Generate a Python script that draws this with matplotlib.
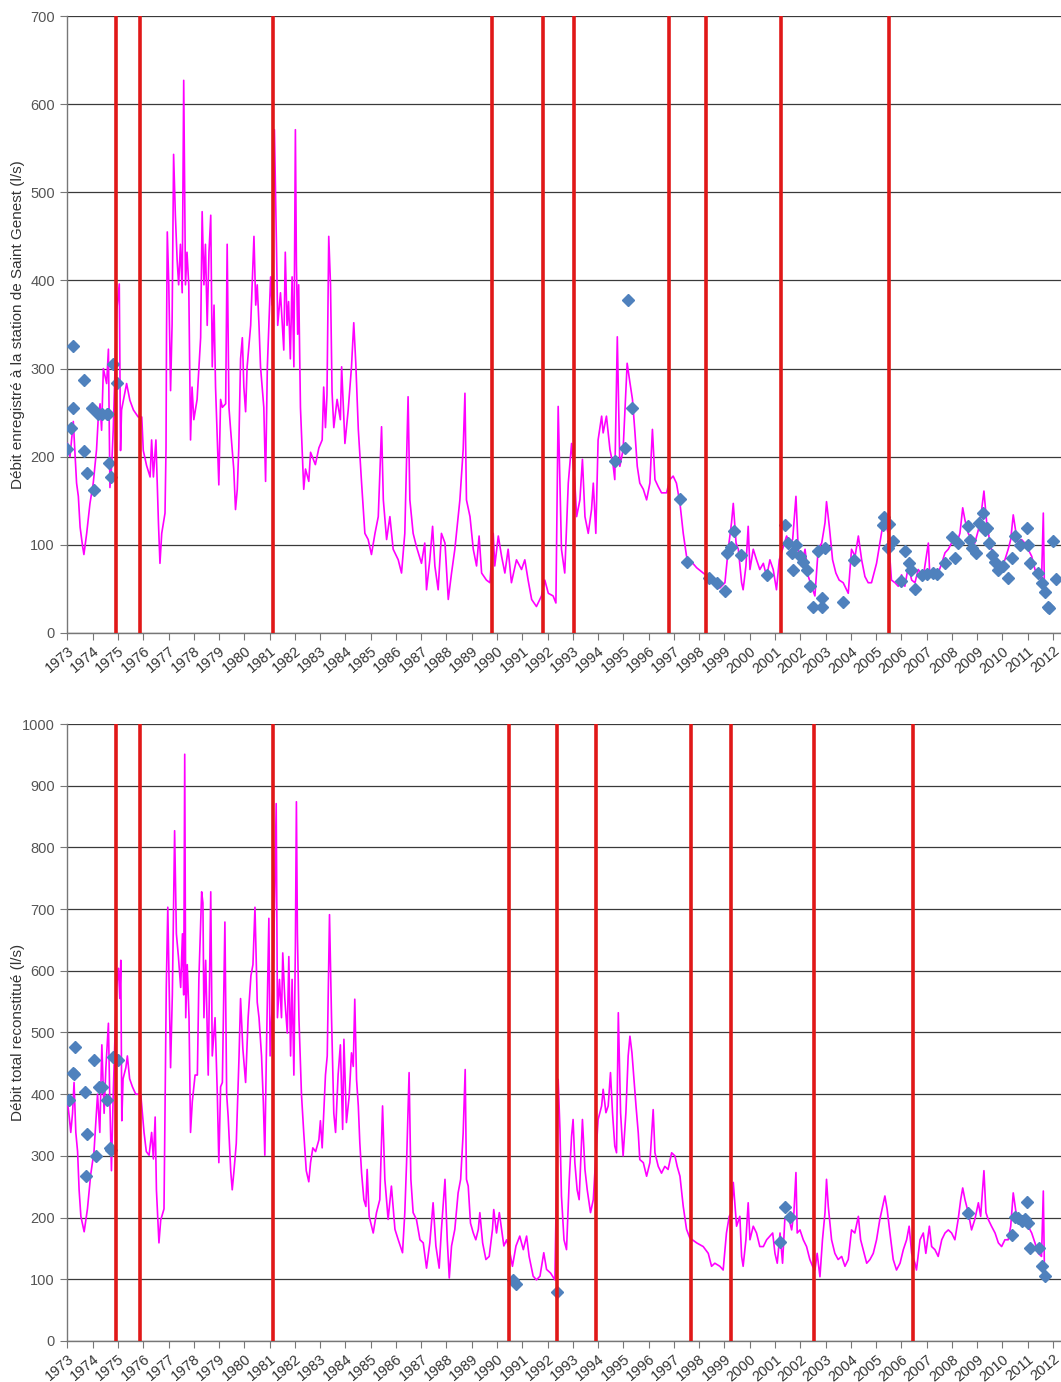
import matplotlib
matplotlib.use("Agg")
import matplotlib.pyplot as plt
import numpy as np

plt.rcParams['font.family'] = ['Liberation Sans', 'DejaVu Sans']

top_t = [1973.00, 1973.10, 1973.23, 1973.36, 1973.43, 1973.50, 1973.59, 1973.65, 1973.76, 1973.89,
         1974.02, 1974.15, 1974.22, 1974.29, 1974.35, 1974.42, 1974.55, 1974.62, 1974.68, 1974.75,
         1974.81, 1974.95, 1975.05, 1975.10, 1975.14, 1975.34, 1975.47, 1975.61, 1975.80, 1975.94,
         1976.00, 1976.13, 1976.27, 1976.33, 1976.40, 1976.50, 1976.60, 1976.66, 1976.73, 1976.86,
         1976.90, 1976.92, 1976.95, 1977.01, 1977.08, 1977.14, 1977.20, 1977.27, 1977.34, 1977.40,
         1977.47, 1977.54, 1977.60, 1977.67, 1977.73, 1977.80, 1977.87, 1977.93, 1978.00, 1978.13,
         1978.27, 1978.33, 1978.40, 1978.46, 1978.53, 1978.60, 1978.67, 1978.73, 1978.80, 1978.86,
         1978.99, 1979.06, 1979.13, 1979.26, 1979.32, 1979.39, 1979.45, 1979.58, 1979.65, 1979.72,
         1979.78, 1979.85, 1979.92, 1979.98, 1980.05, 1980.11, 1980.25, 1980.31, 1980.38, 1980.45,
         1980.51, 1980.58, 1980.64, 1980.77, 1980.84, 1980.91, 1980.97, 1981.04, 1981.10, 1981.19,
         1981.27, 1981.32, 1981.43, 1981.56, 1981.62, 1981.69, 1981.75, 1981.82, 1981.89, 1981.96,
         1982.02, 1982.06, 1982.11, 1982.15, 1982.22, 1982.35, 1982.42, 1982.55, 1982.62, 1982.81,
         1982.95, 1983.08, 1983.14, 1983.21, 1983.27, 1983.34, 1983.41, 1983.47, 1983.54, 1983.67,
         1983.80, 1983.85, 1983.98, 1984.11, 1984.24, 1984.33, 1984.41, 1984.51, 1984.64, 1984.77,
         1984.90, 1985.03, 1985.17, 1985.30, 1985.43, 1985.50, 1985.63, 1985.76, 1985.89, 1986.09,
         1986.22, 1986.35, 1986.48, 1986.55, 1986.68, 1986.81, 1987.01, 1987.14, 1987.21, 1987.34,
         1987.45, 1987.54, 1987.67, 1987.80, 1987.94, 1988.07, 1988.20, 1988.33, 1988.53, 1988.66,
         1988.73, 1988.79, 1988.93, 1989.06, 1989.19, 1989.29, 1989.39, 1989.58, 1989.72, 1989.85,
         1989.91, 1990.05, 1990.18, 1990.31, 1990.44, 1990.57, 1990.77, 1990.97, 1991.10, 1991.23,
         1991.37, 1991.56, 1991.76, 1991.89, 1992.03, 1992.22, 1992.33, 1992.42, 1992.55, 1992.68,
         1992.82, 1992.95, 1993.08, 1993.15, 1993.28, 1993.38, 1993.48, 1993.61, 1993.74, 1993.81,
         1993.91, 1994.00, 1994.14, 1994.20, 1994.33, 1994.47, 1994.60, 1994.66, 1994.76, 1994.86,
         1994.99, 1995.15, 1995.26, 1995.36, 1995.46, 1995.55, 1995.65, 1995.79, 1995.92, 1996.05,
         1996.15, 1996.25, 1996.38, 1996.51, 1996.71, 1996.84, 1996.97, 1997.10, 1997.24, 1997.37,
         1997.50, 1997.63, 1997.90, 1998.16, 1998.43, 1998.62, 1998.82, 1999.02, 1999.15, 1999.28,
         1999.35, 1999.46, 1999.55, 1999.68, 1999.74, 1999.85, 1999.94, 2000.01, 2000.14, 2000.27,
         2000.40, 2000.54, 2000.67, 2000.80, 2000.93, 2001.06, 2001.17, 2001.33, 2001.46, 2001.59,
         2001.70, 2001.83, 2001.92, 2002.05, 2002.19, 2002.32, 2002.45, 2002.58, 2002.71, 2002.85,
         2002.98, 2003.04, 2003.15, 2003.28, 2003.41, 2003.54, 2003.70, 2003.90, 2004.03, 2004.17,
         2004.30, 2004.43, 2004.56, 2004.69, 2004.82, 2005.02, 2005.15, 2005.26, 2005.35, 2005.48,
         2005.61, 2005.75, 2005.88, 2006.01, 2006.14, 2006.28, 2006.41, 2006.54, 2006.67, 2006.87,
         2007.07, 2007.13, 2007.26, 2007.46, 2007.60, 2007.73, 2007.86, 2008.06, 2008.19, 2008.32,
         2008.43, 2008.52, 2008.65, 2008.78, 2008.91, 2009.05, 2009.18, 2009.27, 2009.38, 2009.51,
         2009.64, 2009.77, 2009.90, 2010.10, 2010.23, 2010.33, 2010.43, 2010.54, 2010.63, 2010.76,
         2010.89, 2011.02, 2011.16, 2011.29, 2011.42, 2011.55, 2011.62, 2011.66, 2011.70]
top_q = [215, 200, 240, 170, 155, 120, 100, 89, 113, 147,
         170, 208, 245, 260, 230, 300, 283, 322, 165, 190,
         230, 366, 396, 207, 253, 283, 264, 253, 245, 245,
         207, 190, 177, 219, 177, 219, 125, 79, 113, 136,
         210, 340, 455, 395, 275, 350, 543, 474, 423, 395,
         441, 386, 627, 395, 432, 395, 219, 279, 242, 265,
         335, 478, 395, 441, 349, 432, 474, 302, 372, 279,
         168, 265, 256, 260, 441, 256, 233, 186, 140, 163,
         210, 311, 335, 279, 251, 302, 349, 395, 450, 372,
         395, 349, 302, 256, 172, 302, 349, 404, 372, 571,
         441, 349, 386, 321, 432, 349, 376, 311, 404, 302,
         571, 418, 339, 395, 256, 163, 186, 172, 205, 191,
         210, 219, 279, 233, 270, 450, 395, 274, 233, 265,
         242, 302, 215, 253, 302, 352, 306, 231, 170, 113,
         106, 89, 113, 132, 234, 151, 106, 132, 95, 83,
         68, 113, 268, 151, 113, 98, 79, 102, 49, 83,
         121, 76, 49, 113, 102, 38, 68, 95, 151, 208,
         272, 151, 132, 95, 76, 110, 68, 60, 57, 113,
         76, 110, 87, 68, 95, 57, 83, 72, 83, 60,
         38, 30, 42, 60, 45, 42, 34, 257, 95, 68,
         170, 215, 170, 132, 151, 197, 132, 113, 140, 170,
         113, 219, 246, 227, 246, 208, 189, 174, 336, 189,
         208, 306, 284, 265, 227, 189, 170, 163, 151, 170,
         231, 174, 166, 159, 159, 174, 178, 170, 147, 113,
         87, 83, 74, 68, 62, 53, 51, 57, 95, 125,
         147, 102, 95, 57, 49, 76, 121, 72, 95, 83,
         72, 79, 64, 83, 72, 49, 83, 98, 110, 102,
         106, 155, 95, 76, 95, 64, 53, 42, 95, 102,
         125, 149, 121, 83, 68, 60, 57, 45, 95, 87,
         110, 83, 64, 57, 57, 79, 102, 121, 128, 113,
         60, 57, 53, 66, 53, 76, 60, 57, 72, 64,
         102, 64, 72, 68, 79, 91, 95, 106, 102, 113,
         142, 128, 113, 106, 102, 117, 140, 161, 125, 102,
         87, 79, 76, 83, 95, 106, 134, 113, 102, 106,
         102, 95, 87, 72, 64, 60, 136, 57, 49]

# ---- Saint Genest spot gaugings (diamonds) ----
top_pts_t = [1972.99, 1973.13, 1973.23, 1973.23, 1973.65, 1973.65, 1973.76, 1973.98, 1974.06, 1974.22,
             1974.35, 1974.55, 1974.62, 1974.66, 1974.71, 1974.81, 1974.95,
             1994.68, 1995.06, 1995.20, 1995.35, 1997.24, 1997.53,
             1998.40, 1998.69, 1999.02, 1999.11, 1999.24, 1999.39, 1999.65, 2000.67, 2001.39, 2001.53,
             2001.66, 2001.72, 2001.83, 2001.99, 2002.12, 2002.25, 2002.38, 2002.52, 2002.71, 2002.85,
             2002.85, 2002.98, 2003.70, 2004.13, 2005.26, 2005.33, 2005.48, 2005.51, 2005.66, 2005.97,
             2006.14, 2006.31, 2006.37, 2006.55, 2006.80, 2007.03, 2007.24, 2007.40, 2007.73, 2008.00,
             2008.13, 2008.26, 2008.65, 2008.72, 2008.78, 2008.95, 2009.07, 2009.24, 2009.31, 2009.41,
             2009.48, 2009.57, 2009.71, 2009.84, 2010.04, 2010.23, 2010.37, 2010.50, 2010.69, 2010.96,
             2011.02, 2011.09, 2011.42, 2011.55, 2011.68, 2011.82, 2011.86, 2011.99, 2012.12]
top_pts_q = [209, 232, 326, 255, 287, 206, 182, 255, 162, 249,
             249, 249, 249, 193, 177, 305, 284,
             195, 210, 378, 255, 152, 81,
             62, 57, 48, 91, 98, 116, 89, 66, 122, 102,
             91, 72, 100, 87, 81, 72, 53, 30, 93, 30,
             40, 96, 35, 83, 123, 132, 96, 124, 104, 59,
             93, 79, 72, 50, 66, 67, 68, 67, 79, 109,
             85, 102, 121, 106, 96, 91, 125, 136, 117, 119,
             102, 89, 81, 72, 76, 62, 85, 110, 100, 119,
             100, 79, 68, 57, 47, 30, 28, 104, 61]

# ---- total reconstructed flow (l/s) ----
bot_t = [1973.00, 1973.07, 1973.13, 1973.20, 1973.26, 1973.33, 1973.40, 1973.46, 1973.53, 1973.66,
         1973.79, 1973.92, 1974.05, 1974.19, 1974.28, 1974.36, 1974.45, 1974.52, 1974.62, 1974.67,
         1974.74, 1974.81, 1974.94, 1975.02, 1975.07, 1975.11, 1975.15, 1975.20, 1975.31, 1975.37,
         1975.46, 1975.57, 1975.70, 1975.90, 1976.03, 1976.12, 1976.23, 1976.33, 1976.40, 1976.47,
         1976.52, 1976.62, 1976.69, 1976.82, 1976.91, 1976.97, 1977.02, 1977.08, 1977.15, 1977.24,
         1977.31, 1977.39, 1977.48, 1977.55, 1977.60, 1977.64, 1977.68, 1977.74, 1977.81, 1977.87,
         1977.94, 1978.05, 1978.14, 1978.20, 1978.31, 1978.36, 1978.40, 1978.47, 1978.57, 1978.67,
         1978.73, 1978.84, 1978.93, 1978.99, 1979.06, 1979.13, 1979.23, 1979.30, 1979.36, 1979.46,
         1979.52, 1979.59, 1979.68, 1979.79, 1979.85, 1979.94, 1980.05, 1980.15, 1980.26, 1980.34,
         1980.42, 1980.51, 1980.58, 1980.68, 1980.75, 1980.81, 1980.87, 1980.97, 1981.02, 1981.13,
         1981.21, 1981.26, 1981.31, 1981.39, 1981.47, 1981.52, 1981.60, 1981.70, 1981.76, 1981.83,
         1981.89, 1981.96, 1982.02, 1982.06, 1982.10, 1982.16, 1982.26, 1982.35, 1982.45, 1982.55,
         1982.62, 1982.71, 1982.82, 1982.95, 1983.01, 1983.08, 1983.21, 1983.28, 1983.37, 1983.45,
         1983.54, 1983.61, 1983.71, 1983.80, 1983.89, 1983.94, 1984.04, 1984.15, 1984.24, 1984.31,
         1984.37, 1984.44, 1984.51, 1984.57, 1984.64, 1984.73, 1984.81, 1984.86, 1984.94, 1985.10,
         1985.23, 1985.36, 1985.47, 1985.56, 1985.69, 1985.82, 1985.96, 1986.09, 1986.26, 1986.35,
         1986.42, 1986.52, 1986.59, 1986.68, 1986.81, 1986.95, 1987.08, 1987.21, 1987.34, 1987.47,
         1987.58, 1987.71, 1987.80, 1987.94, 1988.03, 1988.11, 1988.20, 1988.33, 1988.46, 1988.56,
         1988.66, 1988.74, 1988.79, 1988.86, 1988.95, 1989.06, 1989.16, 1989.26, 1989.32, 1989.43,
         1989.56, 1989.69, 1989.82, 1989.87, 1989.98, 1990.09, 1990.18, 1990.27, 1990.38, 1990.51,
         1990.61, 1990.75, 1990.90, 1991.04, 1991.17, 1991.27, 1991.43, 1991.56, 1991.70, 1991.85,
         1991.96, 1992.12, 1992.29, 1992.42, 1992.49, 1992.55, 1992.65, 1992.75, 1992.86, 1992.95,
         1993.01, 1993.08, 1993.17, 1993.25, 1993.38, 1993.48, 1993.57, 1993.70, 1993.81, 1993.87,
         1994.00, 1994.14, 1994.20, 1994.31, 1994.40, 1994.49, 1994.57, 1994.66, 1994.73, 1994.80,
         1994.89, 1994.99, 1995.10, 1995.19, 1995.26, 1995.34, 1995.42, 1995.50, 1995.59, 1995.65,
         1995.79, 1995.92, 1996.05, 1996.18, 1996.25, 1996.38, 1996.51, 1996.64, 1996.77, 1996.91,
         1997.04, 1997.13, 1997.24, 1997.37, 1997.50, 1997.63, 1997.90, 1998.16, 1998.36, 1998.49,
         1998.62, 1998.82, 1998.95, 1999.08, 1999.19, 1999.28, 1999.35, 1999.42, 1999.48, 1999.61,
         1999.68, 1999.74, 1999.85, 1999.94, 2000.01, 2000.14, 2000.27, 2000.40, 2000.54, 2000.67,
         2000.80, 2000.91, 2001.00, 2001.09, 2001.20, 2001.30, 2001.39, 2001.53, 2001.66, 2001.75,
         2001.83, 2001.88, 2001.99, 2002.12, 2002.25, 2002.38, 2002.49, 2002.58, 2002.67, 2002.78,
         2002.88, 2002.98, 2003.04, 2003.11, 2003.24, 2003.37, 2003.50, 2003.64, 2003.77, 2003.90,
         2004.03, 2004.16, 2004.30, 2004.39, 2004.49, 2004.63, 2004.76, 2004.89, 2005.02, 2005.15,
         2005.26, 2005.35, 2005.44, 2005.55, 2005.68, 2005.81, 2005.95, 2006.08, 2006.21, 2006.31,
         2006.41, 2006.54, 2006.60, 2006.74, 2006.87, 2006.97, 2007.11, 2007.20, 2007.33, 2007.46,
         2007.60, 2007.73, 2007.86, 2007.99, 2008.12, 2008.25, 2008.35, 2008.43, 2008.52, 2008.65,
         2008.78, 2008.91, 2009.05, 2009.14, 2009.27, 2009.35, 2009.44, 2009.57, 2009.71, 2009.84,
         2009.97, 2010.10, 2010.23, 2010.33, 2010.43, 2010.54, 2010.63, 2010.76, 2010.89, 2011.02,
         2011.16, 2011.29, 2011.42, 2011.55, 2011.62, 2011.66, 2011.70]
bot_q = [388, 363, 338, 369, 419, 338, 307, 245, 202, 177,
         214, 270, 307, 400, 338, 480, 369, 443, 515, 400,
         276, 400, 573, 604, 555, 617, 357, 425, 443, 462,
         425, 412, 400, 400, 338, 307, 301, 338, 295, 363,
         245, 159, 196, 214, 573, 703, 586, 443, 561, 827,
         660, 623, 573, 660, 561, 951, 524, 610, 524, 338,
         388, 431, 431, 586, 728, 710, 524, 617, 431, 728,
         462, 524, 400, 289, 412, 419, 679, 400, 363, 276,
         245, 276, 320, 462, 555, 474, 419, 524, 592, 610,
         703, 549, 524, 462, 388, 301, 462, 685, 462, 573,
         741, 871, 524, 586, 524, 629, 555, 499, 623, 462,
         586, 431, 641, 874, 660, 524, 400, 338, 276, 258,
         289, 313, 307, 326, 357, 313, 431, 462, 691, 524,
         369, 338, 431, 480, 343, 489, 354, 397, 467, 445,
         554, 424, 381, 321, 272, 229, 218, 278, 202, 175,
         208, 229, 381, 262, 197, 251, 181, 164, 143, 208,
         289, 435, 262, 208, 197, 164, 159, 118, 159, 224,
         154, 118, 181, 262, 164, 102, 154, 181, 240, 262,
         337, 440, 262, 251, 191, 175, 164, 181, 208, 159,
         132, 137, 181, 213, 175, 208, 181, 154, 164, 143,
         121, 154, 170, 148, 170, 137, 105, 99, 105, 143,
         116, 110, 99, 424, 343, 235, 164, 148, 262, 332,
         359, 289, 245, 229, 359, 278, 245, 208, 229, 272,
         359, 381, 408, 370, 381, 435, 370, 316, 305, 532,
         370, 300, 370, 462, 494, 467, 424, 381, 337, 294,
         289, 267, 289, 375, 305, 283, 272, 283, 278, 305,
         300, 283, 267, 218, 181, 167, 159, 153, 142, 121,
         126, 121, 115, 175, 202, 208, 257, 218, 186, 202,
         137, 121, 164, 224, 164, 186, 175, 153, 153, 164,
         170, 175, 142, 126, 175, 126, 197, 202, 180, 208,
         273, 175, 180, 164, 153, 132, 121, 115, 142, 104,
         164, 208, 262, 218, 164, 142, 132, 137, 121, 132,
         180, 175, 202, 164, 148, 126, 132, 142, 164, 197,
         218, 235, 213, 175, 132, 115, 126, 148, 164, 186,
         142, 126, 115, 164, 175, 142, 186, 153, 148, 137,
         164, 175, 180, 175, 164, 197, 229, 248, 229, 208,
         180, 197, 224, 202, 276, 208, 197, 186, 175, 159,
         153, 164, 164, 186, 240, 208, 197, 202, 197, 186,
         175, 159, 142, 137, 243, 126, 110]

bot_pts_t = [1973.07, 1973.20, 1973.26, 1973.30, 1973.70, 1973.72, 1973.79, 1974.03, 1974.12, 1974.23,
             1974.36, 1974.58, 1974.67, 1974.74, 1974.82, 1974.98,
             1990.64, 1990.75, 1992.36,
             2001.20, 2001.39, 2001.59, 2008.65, 2010.37, 2010.50, 2010.63, 2010.76, 2010.89, 2010.96,
             2011.02, 2011.09, 2011.46, 2011.55, 2011.70]
bot_pts_q = [390, 434, 432, 477, 404, 267, 335, 456, 299, 411,
             411, 391, 312, 310, 461, 456,
             99, 93, 79,
             160, 217, 201, 208, 171, 201, 199, 194, 197, 225,
             191, 151, 151, 122, 105]

# red markers (dates of the events)
top_events = [1974.92, 1975.87, 1981.15, 1989.80, 1991.83, 1993.04, 1996.81, 1998.28, 2001.23, 2005.52]
bot_events = [1974.92, 1975.87, 1981.12, 1990.48, 1992.37, 1993.92, 1997.66, 1999.27, 2002.53, 2006.46]

years = list(range(1973, 2013))

fig = plt.figure(figsize=(10.61, 13.82), dpi=100)
ax1 = fig.add_axes([0.0636, 0.5420, 0.9364, 0.4464])
ax2 = fig.add_axes([0.0636, 0.0297, 0.9364, 0.4464])

panels = [
    (ax1, top_t, top_q, top_pts_t, top_pts_q, top_events, 700,
     "Débit enregistré à la station de Saint Genest (l/s)"),
    (ax2, bot_t, bot_q, bot_pts_t, bot_pts_q, bot_events, 1000,
     "Débit total reconstitué (l/s)"),
]

for ax, t, q, pt, pq, ev, ymax, label in panels:
    ax.set_xlim(1973.0, 2012.32)
    ax.set_ylim(0, ymax)
    ax.set_yticks(np.arange(0, ymax + 1, 100))
    ax.yaxis.grid(True, color='#3a3a3a', linewidth=0.9)
    ax.set_axisbelow(True)
    ax.plot(t, q, color='#ff00ff', linewidth=1.2, zorder=3)
    ax.plot(pt, pq, linestyle='none', marker='D', markersize=6.5,
            color='#4f81bd', markeredgecolor='#4f81bd', zorder=4)
    for e in ev:
        ax.axvline(e, color='#e01818', linewidth=2.6, zorder=5)
    for s in ['top', 'right']:
        ax.spines[s].set_visible(False)
    for s in ['left', 'bottom']:
        ax.spines[s].set_color('#777777')
        ax.spines[s].set_linewidth(1.0)
    ax.set_xticks(years)
    ax.set_xticklabels([str(y) for y in years], rotation=40, ha='right',
                       rotation_mode='anchor', fontsize=10.5, color='#333333')
    ax.tick_params(axis='x', direction='out', length=5, color='#777777', pad=3)
    ax.tick_params(axis='y', direction='out', length=5, color='#777777',
                   labelsize=10.5, labelcolor='#555555', pad=4)
    ax.set_ylabel(label, fontsize=11, color='#333333')
    ax.yaxis.set_label_coords(-0.043, 0.5)

fig.savefig("out.png", dpi=100)
